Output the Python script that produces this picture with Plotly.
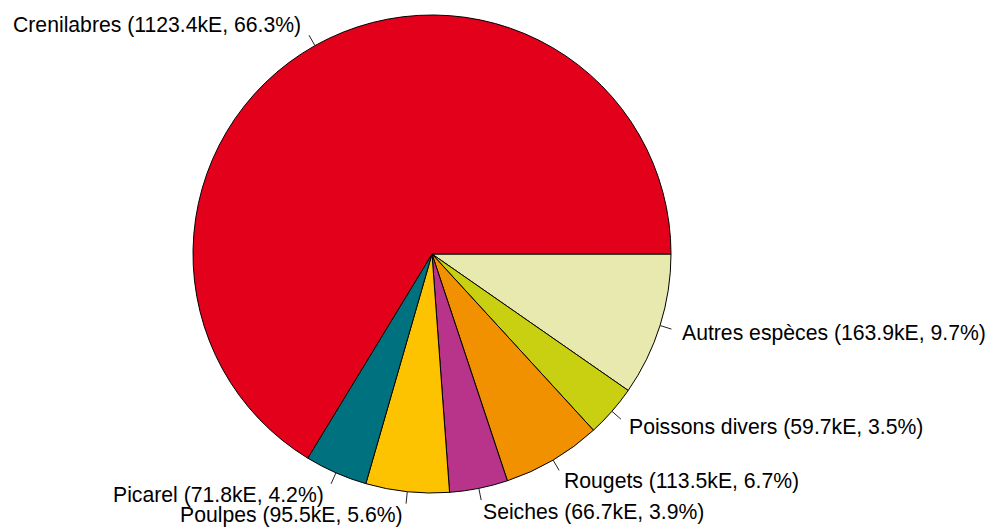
import math
import plotly.graph_objects as go

categories = ["Crenilabres", "Picarel", "Poulpes", "Seiches", "Rougets", "Poissons divers", "Autres espèces"]
values = [1123.4, 71.8, 95.5, 66.7, 113.5, 59.7, 163.9]
colors = ["#E2001A", "#00717F", "#FDC300", "#B8338A", "#F29100", "#C8D011", "#E8E9AE"]

W, H = 997, 529
OFF = 8  # page body margin
cx, cy, r = 432 - OFF, 254 - OFF, 239

total = sum(values)
labels = [f"{c} ({v:.1f}kE, {100*v/total:.1f}%)" for c, v in zip(categories, values)]

# R pie: counterclockwise from 3 o'clock; draw reversed order clockwise from 3 o'clock
fig = go.Figure(go.Pie(
    labels=categories[::-1], values=values[::-1], sort=False, direction="clockwise",
    rotation=90, textinfo="none", hoverinfo="label+value+percent",
    marker=dict(colors=colors[::-1], line=dict(color="black", width=1)),
    domain=dict(x=[(cx - r) / W, (cx + r) / W], y=[(H - cy - r) / H, (H - cy + r) / H]),
    showlegend=False,
))

shapes, annotations = [], []
cum = 0.0
for lab, v in zip(labels, values):
    mid = 2 * math.pi * (cum + v / 2) / total
    cum += v
    c, s = math.cos(mid), math.sin(mid)
    x1, y1 = cx + r * c, cy - r * s
    x2, y2 = cx + 1.05 * r * c, cy - 1.05 * r * s
    shapes.append(dict(type="line", xref="paper", yref="paper",
                       x0=x1 / W, y0=1 - y1 / H, x1=x2 / W, y1=1 - y2 / H,
                       line=dict(color="#222222", width=1)))
    tx, ty = cx + 1.1 * r * c, cy - 1.1 * r * s
    left = c >= 0
    annotations.append(dict(x=tx / W, y=1 - ty / H, xref="paper", yref="paper",
                            text=lab, showarrow=False, xshift=-3 if left else 0,
                            xanchor="left" if left else "right", yanchor="middle",
                            font=dict(family="Liberation Sans, Arial", size=21.2, color="black")))

fig.update_layout(width=W, height=H, margin=dict(l=0, r=0, t=0, b=0),
                  paper_bgcolor="white", plot_bgcolor="white",
                  shapes=shapes, annotations=annotations)
fig.write_html("out.html")
